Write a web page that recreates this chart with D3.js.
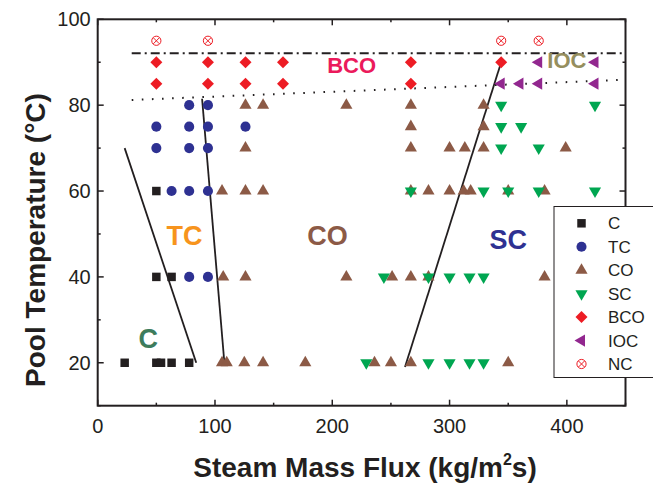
<!doctype html>
<html lang="en">
<head>
<meta charset="utf-8">
<title>Flow regime map</title>
<style>
  body { margin: 0; background: #fff; }
  svg { font-family: Arial, "Liberation Sans", sans-serif; }
</style>
</head>
<body>
<div id="chart"></div>
<script src="https://d3js.org/d3.v7.min.js"></script>
<script>
// data: [steam mass flux, pool temperature]
var C_pts = [[23,20],[50,20],[54,20],[63,20],[78,20],[50,40],[63,40],[50,60]];
var TC_pts = [[78,40],[94,40],[63,60],[78,60],[94,60],[50,70],[78,70],[94,70],
              [50,75],[78,75],[94,75],[126,75],[78,80],[94,80]];
var CO_pts = [[106,20],[110,20],[125,20],[141,20],[177,20],[236,20],[250,20],[267,20],[350,20],
              [107,40],[126,40],[212,40],[251,40],[267,40],[282,40],[381,40],
              [106,60],[126,60],[141,60],[267,60],[282,60],[300,60],[312,60],[318,60],[350,60],[381,60],
              [126,70],[267,70],[300,70],[313,70],[329,70],[399,70],
              [267,75],[329,75],
              [126,80],[141,80],[212,80],[267,80],[329,80]];
var SC_pts = [[229,20],[282,20],[300,20],[317,20],[329,20],
              [244,40],[282,40],[300,40],[317,40],[329,40],
              [267,60],[329,60],[350,60],[376,60],[424,60],
              [344,70],[376,70],[344,75],[361,75],[344,80],[424,80]];
var BCO_pts = [[50,85],[94,85],[126,85],[158,85],[267,85],
               [50,90],[94,90],[126,90],[158,90],[267,90],[344,90]];
var IOC_pts = [[344,85],[360,85],[376,85],[424,85],[376,90],[424,90]];
var NC_pts = [[50,95],[94,95],[344,95],[376,95]];

// regime boundaries and reference lines
var boundaries = [[[23,70],[84,20]], [[89,81.5],[108,20]], [[262,19],[344,90]]];
var dashLine = [[29,92.1],[450,92.1]];
var dotLine = [[29,81.2],[447,85.9]];

var regionLabels = [
  {text: "C", x: 43, y: 23.5, color: "#3d7c5c", size: 27},
  {text: "TC", x: 74, y: 47.5, color: "#f7941d", size: 27},
  {text: "CO", x: 196, y: 47.5, color: "#8c5a46", size: 27},
  {text: "SC", x: 350, y: 46.5, color: "#2e3192", size: 27},
  {text: "BCO", x: 216.5, y: 87.4, color: "#eb1a5b", size: 22},
  {text: "IOC", x: 400, y: 88.6, color: "#958e5e", size: 22}
];

var xTicks = [0, 100, 200, 300, 400];
var yTicks = [20, 40, 60, 80, 100];

var width = 653, height = 490;
var margin = {left: 97.7, right: 27.5, top: 19.3, bottom: 84.3};

var svg = d3.select("#chart").append("svg")
  .attr("width", width)
  .attr("height", height);

var x = d3.scaleLinear().domain([0, 450]).range([margin.left, width - margin.right]);
var y = d3.scaleLinear().domain([10, 100]).range([height - margin.bottom, margin.top]);

var ink = "#231f20";

// boundary lines
var line = d3.line().x(function(d){ return x(d[0]); }).y(function(d){ return y(d[1]); });
svg.selectAll(".bound").data(boundaries).enter().append("path")
  .attr("d", line).attr("fill", "none").attr("stroke", ink).attr("stroke-width", 1.8);

svg.append("path").attr("d", line(dashLine)).attr("fill", "none")
  .attr("stroke", ink).attr("stroke-width", 2).attr("stroke-dasharray", "9,4,2,4");
svg.append("path").attr("d", line(dotLine)).attr("fill", "none")
  .attr("stroke", ink).attr("stroke-width", 2).attr("stroke-dasharray", "1.6,8.5");

// marker types
var series = [
  {name: "C", data: C_pts, type: d3.symbolSquare, size: 72, rot: 0, color: "#231f20"},
  {name: "TC", data: TC_pts, type: d3.symbolCircle, size: 80, rot: 0, color: "#2e3192"},
  {name: "CO", data: CO_pts, type: d3.symbolTriangle, size: 64, rot: 0, color: "#8c5a46"},
  {name: "SC", data: SC_pts, type: d3.symbolTriangle, size: 64, rot: 180, color: "#00a651"},
  {name: "BCO", data: BCO_pts, type: d3.symbolSquare, size: 72, rot: 45, color: "#ed1c24"},
  {name: "IOC", data: IOC_pts, type: d3.symbolTriangle, size: 64, rot: -90, color: "#92278f"},
  {name: "NC", data: NC_pts, type: null, color: "#ed1c24"}
];

function drawMarker(g, s) {
  if (s.type) {
    g.append("path")
      .attr("d", d3.symbol().type(s.type).size(s.size)())
      .attr("transform", "rotate(" + s.rot + ")")
      .attr("fill", s.color);
  } else {
    g.append("circle").attr("r", 4.6).attr("fill", "none")
      .attr("stroke", s.color).attr("stroke-width", 1);
    g.append("path").attr("d", "M-3,-3L3,3M-3,3L3,-3")
      .attr("stroke", s.color).attr("stroke-width", 1);
  }
}

series.forEach(function(s){
  svg.selectAll(null).data(s.data).enter().append("g")
    .attr("transform", function(d){ return "translate(" + x(d[0]) + "," + y(d[1]) + ")"; })
    .each(function(){ drawMarker(d3.select(this), s); });
});

// region labels
svg.selectAll(".rlab").data(regionLabels).enter().append("text")
  .attr("x", function(d){ return x(d.x); })
  .attr("y", function(d){ return y(d.y); })
  .attr("text-anchor", "middle")
  .attr("font-weight", "bold")
  .attr("font-size", function(d){ return d.size + "px"; })
  .attr("fill", function(d){ return d.color; })
  .text(function(d){ return d.text; });

// axes (inner ticks on all four sides)
var xMinor = d3.range(0, 451, 50), yMinor = d3.range(10, 101, 10);
function isMajorX(v){ return v % 100 === 0; }
function isMajorY(v){ return v % 20 === 0; }

var ax = svg.append("g").attr("stroke", ink).attr("stroke-width", 1.5);
xMinor.forEach(function(v){
  var len = isMajorX(v) ? 6 : 3;
  ax.append("line").attr("x1", x(v)).attr("x2", x(v)).attr("y1", y(10)).attr("y2", y(10) - len);
  ax.append("line").attr("x1", x(v)).attr("x2", x(v)).attr("y1", y(100)).attr("y2", y(100) + len);
});
yMinor.forEach(function(v){
  var len = isMajorY(v) ? 6 : 3;
  ax.append("line").attr("y1", y(v)).attr("y2", y(v)).attr("x1", x(0)).attr("x2", x(0) + len);
  ax.append("line").attr("y1", y(v)).attr("y2", y(v)).attr("x1", x(450)).attr("x2", x(450) - len);
});
svg.append("rect")
  .attr("x", x(0)).attr("y", y(100))
  .attr("width", x(450) - x(0)).attr("height", y(10) - y(100))
  .attr("fill", "none").attr("stroke", ink).attr("stroke-width", 2);

svg.selectAll(".xt").data(xTicks).enter().append("text")
  .attr("x", function(d){ return x(d); }).attr("y", y(10) + 27)
  .attr("text-anchor", "middle").attr("font-size", "20px").attr("fill", ink)
  .text(function(d){ return d; });
svg.selectAll(".yt").data(yTicks).enter().append("text")
  .attr("x", x(0) - 7).attr("y", function(d){ return y(d) + 7; })
  .attr("text-anchor", "end").attr("font-size", "20px").attr("fill", ink)
  .text(function(d){ return d; });

var xl = svg.append("text").attr("x", 365).attr("y", 477)
  .attr("text-anchor", "middle").attr("font-size", "28px").attr("font-weight", "bold").attr("fill", ink);
xl.append("tspan").text("Steam Mass Flux (kg/m");
xl.append("tspan").attr("font-size", "16px").attr("dy", -12).text("2");
xl.append("tspan").attr("dy", 12).text("s)");

svg.append("text")
  .attr("transform", "translate(45,240) rotate(-90)")
  .attr("text-anchor", "middle").attr("font-size", "28px").attr("font-weight", "bold").attr("fill", ink)
  .text("Pool Temperature (\u00B0C)");

// legend
var leg = svg.append("g");
leg.append("rect").attr("x", 554).attr("y", 206.5).attr("width", 110).attr("height", 171)
  .attr("fill", "#fff").attr("stroke", ink).attr("stroke-width", 1);
series.forEach(function(s, i){
  var g = leg.append("g").attr("transform", "translate(581.5," + (223.3 + i * 23.45) + ")");
  drawMarker(g, s);
  leg.append("text").attr("x", 608).attr("y", 223.3 + i * 23.45 + 6)
    .attr("font-size", "17px").attr("fill", ink).text(s.name);
});
</script>
</body>
</html>
